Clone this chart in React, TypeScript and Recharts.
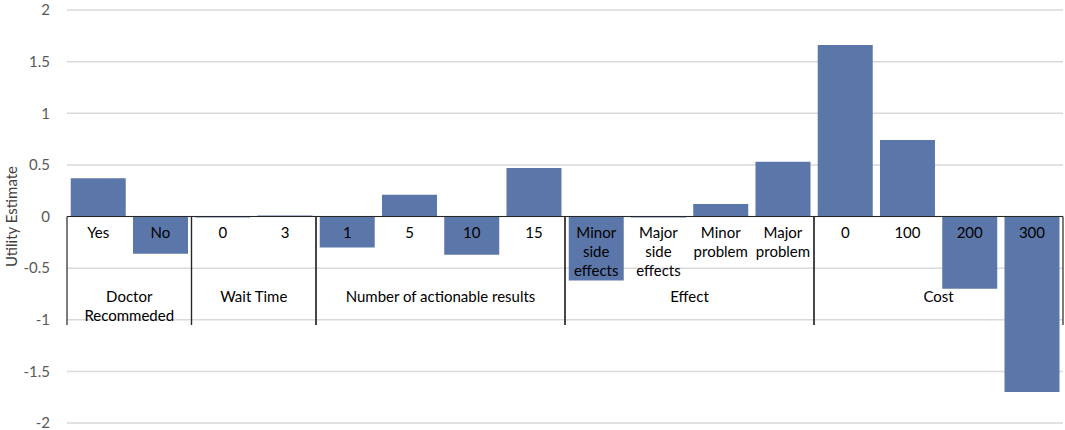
import {
  Bar,
  BarChart,
  CartesianGrid,
  LabelList,
  ReferenceArea,
  ReferenceLine,
  XAxis,
  YAxis,
} from "recharts";

const groups = [
  "Doctor\nRecommeded",
  "Wait Time",
  "Number of actionable results",
  "Effect",
  "Cost",
];

const levels = [
  ["Yes", "No"],
  ["0", "3"],
  ["1", "5", "10", "15"],
  ["Minor\nside\neffects", "Major\nside\neffects", "Minor\nproblem", "Major\nproblem"],
  ["0", "100", "200", "300"],
];

const utilities = [
  [0.37, -0.36],
  [-0.01, 0.01],
  [-0.3, 0.21, -0.37, 0.47],
  [-0.62, -0.01, 0.12, 0.53],
  [1.66, 0.74, -0.7, -1.7],
];

const yTicks = [-2, -1.5, -1, -0.5, 0, 0.5, 1, 1.5, 2];

const FONT = "Lato, 'Open Sans', sans-serif";
const BAR = "#5b76a9";

const rows = groups.flatMap((g, gi) =>
  levels[gi].map((l, li) => ({
    key: `${gi}|${li}`,
    label: l,
    value: utilities[gi][li],
  }))
);

function LevelLabel(props: any) {
  const { x, y, width, height, value, index } = props;
  const v = rows[index]?.value ?? value;
  const top = Math.min(y, y + height);
  const bottom = Math.max(y, y + height);
  const zero = v >= 0 ? bottom : top;
  const lines = String(rows[index]?.label ?? "").split("\n");
  return (
    <text
      x={x + width / 2}
      y={zero + 21}
      textAnchor="middle"
      fontFamily={FONT}
      fontSize={15}
      fill="#000"
    >
      {lines.map((s, i) => (
        <tspan key={i} x={x + width / 2} dy={i === 0 ? 0 : 19}>
          {s}
        </tspan>
      ))}
    </text>
  );
}

function GroupShape(props: any) {
  const { x, y, width, height, name } = props;
  const top = Math.min(y, y + height);
  const bottom = Math.max(y, y + height);
  const lines = String(name).split("\n");
  return (
    <g>
      <line x1={x} x2={x} y1={top} y2={bottom} stroke="#262626" strokeWidth={1.2} />
      <line x1={x + width} x2={x + width} y1={top} y2={bottom} stroke="#262626" strokeWidth={1.2} />
      <text
        x={x + width / 2}
        y={top + 85}
        textAnchor="middle"
        fontFamily={FONT}
        fontSize={15}
        fill="#000"
      >
        {lines.map((s, i) => (
          <tspan key={i} x={x + width / 2} dy={i === 0 ? 0 : 19}>
            {s}
          </tspan>
        ))}
      </text>
    </g>
  );
}

export default function App() {
  let start = 0;
  const spans = groups.map((g, gi) => {
    const first = rows[start].key;
    const last = rows[start + levels[gi].length - 1].key;
    start += levels[gi].length;
    return { g, first, last };
  });

  return (
    <div style={{ position: "absolute", left: 0, top: 0, background: "#fff" }}>
      <BarChart
        width={1065}
        height={430}
        data={rows}
        margin={{ top: 10, right: 2, bottom: 7, left: 0 }}
        barCategoryGap="6%"
      >
        <CartesianGrid vertical={false} stroke="#d9d9d9" strokeWidth={1.5} />
        <XAxis dataKey="key" hide />
        <YAxis
          domain={[-2, 2]}
          ticks={yTicks}
          interval={0}
          width={67}
          axisLine={false}
          tickLine={false}
          tickMargin={11}
          tick={{ fontFamily: FONT, fontSize: 15, fill: "#595959" }}
          label={{
            value: "Utility Estimate",
            angle: -90,
            position: "insideLeft",
            offset: 12,
            style: { textAnchor: "middle", fontFamily: FONT, fontSize: 15, fill: "#404040" },
          }}
        />
        <Bar dataKey="value" fill={BAR} isAnimationActive={false}>
          <LabelList dataKey="label" content={<LevelLabel />} />
        </Bar>
        {spans.map((s) => (
          <ReferenceArea
            key={s.g}
            x1={s.first}
            x2={s.last}
            y1={0}
            y2={-1.05}
            shape={(p: any) => <GroupShape {...p} name={s.g} />}
          />
        ))}
        <ReferenceLine y={0} stroke="#262626" strokeWidth={1.2} />
      </BarChart>
    </div>
  );
}
